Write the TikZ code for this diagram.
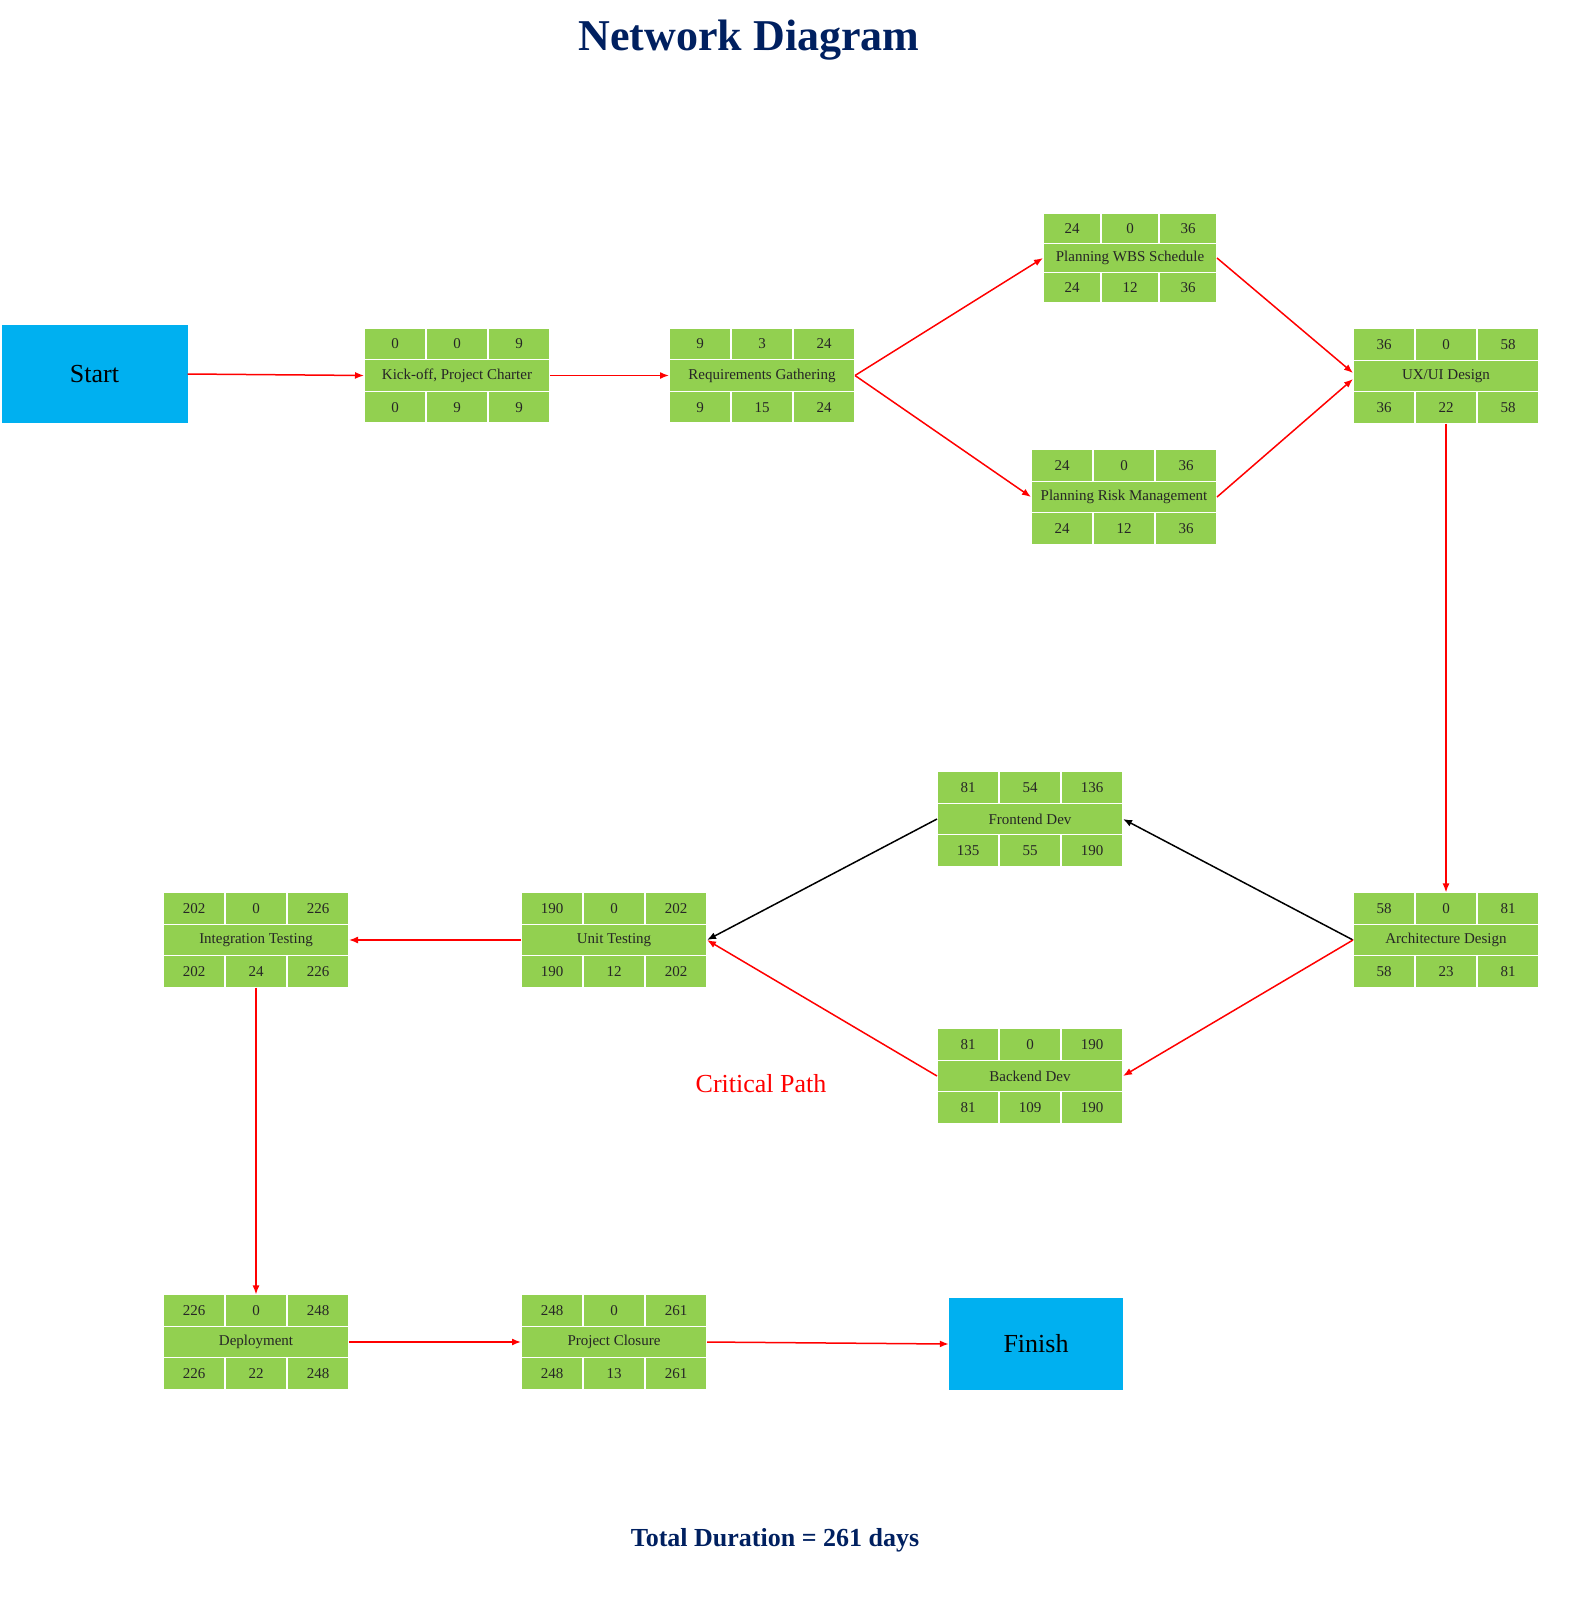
\documentclass[tikz,border=0pt]{standalone}
\usepackage{fontspec}
\setmainfont{Liberation Serif}
\usepackage{xcolor}
\usetikzlibrary{arrows.meta,positioning}
\definecolor{taskgreen}{HTML}{92D050}
\definecolor{endblue}{HTML}{00B0F0}
\definecolor{navy}{HTML}{002060}
% #1 name, #2 centre, #3 activity, #4-#6 top row, #7-#9 bottom row
\newcommand{\taskbox}[9]{%
  \node[taskmid] (#1) at (#2) {#3};
  \node[taskcell, above=0pt of #1] (#1-t) {#5};
  \node[taskcell, left=0pt of #1-t] (#1-tl) {#4};
  \node[taskcell, right=0pt of #1-t] (#1-tr) {#6};
  \node[taskcell, below=0pt of #1] (#1-b) {#8};
  \node[taskcell, left=0pt of #1-b] (#1-bl) {#7};
  \node[taskcell, right=0pt of #1-b] (#1-br) {#9};
}

\begin{document}
\begin{tikzpicture}[x=1pt,y=-1pt]
  \tikzset{taskcell/.style={fill=taskgreen, draw=white, line width=1.2pt, minimum width=62pt,
             minimum height=31.7pt, inner sep=0pt, outer sep=0pt,
             font=\fontsize{15}{17}\selectfont, text=black!85},
           taskmid/.style={taskcell, minimum width=186pt},
           endbox/.style={fill=endblue, minimum width=186pt, minimum height=98pt,
             inner sep=0pt, font=\fontsize{26}{30}\selectfont},
           crit/.style={draw=red, line width=1.5pt, -{Latex[length=9pt,width=7pt]}},
           free/.style={crit, draw=black}}
    \useasboundingbox (0,0) rectangle (1572,1600);

    \node[font=\bfseries\fontsize{44}{50}\selectfont, text=navy] (title) at (749,40) {Network Diagram};

    \node[endbox] (start) at (94.5,374) {Start};
    \node[endbox, minimum width=174pt, minimum height=92pt] (finish) at (1036,1344) {Finish};

    \taskbox{kick}{457,375.5}{Kick-off, Project Charter}{0}{0}{9}{0}{9}{9}
    \taskbox{req}{762,375.5}{Requirements Gathering}{9}{3}{24}{9}{15}{24}
    \begin{scope}[taskcell/.append style={minimum width=58pt, minimum height=29.7pt},
                  taskmid/.append style={minimum width=174pt}]
    \taskbox{wbs}{1130,258}{Planning WBS Schedule}{24}{0}{36}{24}{12}{36}
    \end{scope}
    \taskbox{risk}{1124,497}{Planning Risk Management}{24}{0}{36}{24}{12}{36}
    \taskbox{ux}{1446,376}{UX/UI Design}{36}{0}{58}{36}{22}{58}
    \taskbox{arch}{1446,940}{Architecture Design}{58}{0}{81}{58}{23}{81}
    \taskbox{front}{1030,819}{Frontend Dev}{81}{54}{136}{135}{55}{190}
    \taskbox{back}{1030,1076}{Backend Dev}{81}{0}{190}{81}{109}{190}
    \taskbox{unit}{614,940}{Unit Testing}{190}{0}{202}{190}{12}{202}
    \taskbox{integ}{256,940}{Integration Testing}{202}{0}{226}{202}{24}{226}
    \taskbox{deploy}{256,1342}{Deployment}{226}{0}{248}{226}{22}{248}
    \taskbox{closure}{614,1342}{Project Closure}{248}{0}{261}{248}{13}{261}

    % critical path in red, the rest in black
    \draw[crit] (start.east) -- (kick.west);
    \draw[crit] (kick.east) -- (req.west);
    \draw[crit] (req.east) -- (wbs.west);
    \draw[crit] (req.east) -- (risk.west);
    \draw[crit] (wbs.east) -- ([yshift=3pt]ux.west);
    \draw[crit] (risk.east) -- ([yshift=-3pt]ux.west);
    \draw[crit] (ux-b.south) -- (arch-t.north);
    \draw[free] (arch.west) -- (front.east);
    \draw[crit] (arch.west) -- (back.east);
    \draw[free] (front.west) -- (unit.east);
    \draw[crit] (back.west) -- (unit.east);
    \draw[crit] (unit.west) -- (integ.east);
    \draw[crit] (integ-b.south) -- (deploy-t.north);
    \draw[crit] (deploy.east) -- (closure.west);
    \draw[crit] (closure.east) -- (finish.west);

    \node[text=red, font=\fontsize{26}{30}\selectfont] (critlabel) at (761,1084) {Critical Path};
    \node[font=\bfseries\fontsize{26}{30}\selectfont, text=navy] (total) at (775,1540) {Total Duration = 261 days};
\end{tikzpicture}
\end{document}
